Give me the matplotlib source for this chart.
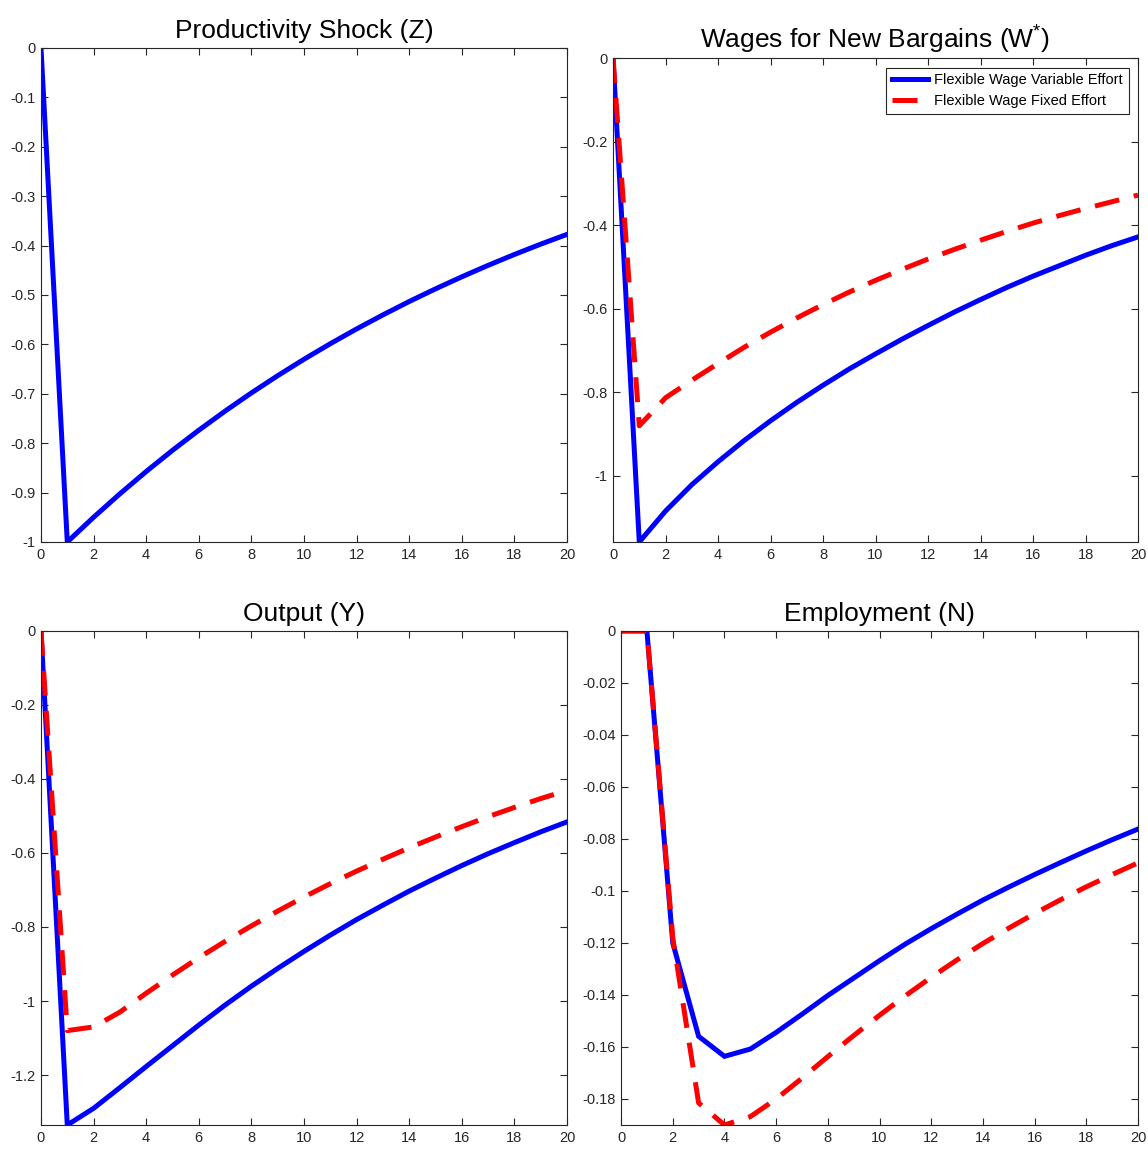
import numpy as np
import matplotlib
matplotlib.use("Agg")
import matplotlib.pyplot as plt
from matplotlib.ticker import FuncFormatter

plt.rcParams['font.family'] = ['Liberation Sans', 'DejaVu Sans']
plt.rcParams['axes.unicode_minus'] = False
plt.rcParams['mathtext.fontset'] = 'custom'
plt.rcParams['mathtext.rm'] = 'Liberation Sans'
plt.rcParams['mathtext.it'] = 'Liberation Sans'

t = list(range(21))

# productivity shock Z
z_var = [0, -1.0, -0.95, -0.9025, -0.8574, -0.8145, -0.7738, -0.7351, -0.6983, -0.6634, -0.6302,
         -0.5987, -0.5688, -0.5404, -0.5133, -0.4877, -0.4633, -0.4401, -0.4181, -0.3972, -0.3774]

# wages for new bargains W*
w_var = [0, -1.158, -1.084, -1.021, -0.966, -0.915, -0.868, -0.824, -0.783, -0.744, -0.708,
         -0.673, -0.640, -0.608, -0.578, -0.549, -0.522, -0.497, -0.472, -0.449, -0.428]
w_fix = [0, -0.880, -0.813, -0.771, -0.731, -0.692, -0.656, -0.622, -0.590, -0.560, -0.532,
         -0.506, -0.481, -0.458, -0.436, -0.415, -0.395, -0.377, -0.360, -0.344, -0.328]

# output Y
y_var = [0, -1.335, -1.290, -1.234, -1.177, -1.121, -1.065, -1.011, -0.960, -0.912, -0.866,
         -0.822, -0.780, -0.741, -0.703, -0.668, -0.634, -0.602, -0.572, -0.543, -0.516]
y_fix = [0, -1.080, -1.070, -1.030, -0.979, -0.930, -0.883, -0.839, -0.797, -0.757, -0.719,
         -0.683, -0.649, -0.617, -0.586, -0.557, -0.529, -0.502, -0.477, -0.453, -0.431]

# employment N
n_var = [0, 0, -0.120, -0.1559, -0.1636, -0.1608, -0.1544, -0.1474, -0.1402, -0.1335, -0.1268,
         -0.1204, -0.1145, -0.1089, -0.1035, -0.0985, -0.0937, -0.0891, -0.0846, -0.0803, -0.0762]
n_fix = [0, 0, -0.118, -0.1815, -0.1900, -0.1868, -0.1800, -0.1720, -0.1637, -0.1556, -0.1478,
         -0.1403, -0.1332, -0.1265, -0.1202, -0.1143, -0.1087, -0.1034, -0.0984, -0.0937, -0.0892]

labels = ['Flexible Wage Variable Effort', 'Flexible Wage Fixed Effort']

fig = plt.figure(figsize=(11.48, 11.49), dpi=100)

def style(ax, ylo, ystep, title):
    ax.set_xlim(0, 20)
    ax.set_ylim(ylo, 0)
    ax.set_xticks(np.arange(0, 21, 2))
    ax.set_yticks(np.arange(0, ylo - 1e-9, -ystep))
    fmt = FuncFormatter(lambda v, p: '%g' % round(v, 6) if abs(v) > 1e-9 else '0')
    ax.xaxis.set_major_formatter(fmt)
    ax.yaxis.set_major_formatter(fmt)
    ax.tick_params(direction='in', top=True, right=True, length=5, width=0.8,
                   labelsize=10.5, colors='#262626', pad=4)
    for s in ax.spines.values():
        s.set_color('#262626')
        s.set_linewidth(0.8)
    ax.set_title(title, fontsize=19, pad=7)

blue = dict(color='#0000ff', lw=3.6, solid_joinstyle='miter')
red = dict(color='#ff0000', lw=3.6, ls='--', dashes=(5, 3.0))

ax1 = fig.add_axes([0.0357, 0.5283, 0.4582, 0.43])
ax1.plot(t, z_var, **blue)
style(ax1, -1.0, 0.1, 'Productivity Shock (Z)')

ax2 = fig.add_axes([0.534, 0.5283, 0.4573, 0.4212])
ax2.plot(t, w_var, label=labels[0], **blue)
ax2.plot(t, w_fix, label=labels[1], **red)
style(ax2, -1.158, 0.2, r'Wages for New Bargains (W$^{*}$)')
leg = ax2.legend(loc='upper right', fontsize=10.5, handlelength=2.5, fancybox=False,
                 edgecolor='#262626', framealpha=1, borderpad=0.4, labelspacing=0.45,
                 handletextpad=0.4, borderaxespad=0.65)
leg.get_frame().set_linewidth(0.8)

ax3 = fig.add_axes([0.0357, 0.0209, 0.4582, 0.43])
ax3.plot(t, y_var, **blue)
ax3.plot(t, y_fix, **red)
style(ax3, -1.335, 0.2, 'Output (Y)')

ax4 = fig.add_axes([0.541, 0.0209, 0.4503, 0.43])
ax4.plot(t, n_var, **blue)
ax4.plot(t, n_fix, **red)
style(ax4, -0.190, 0.02, 'Employment (N)')

fig.savefig('out.png', dpi=100)
